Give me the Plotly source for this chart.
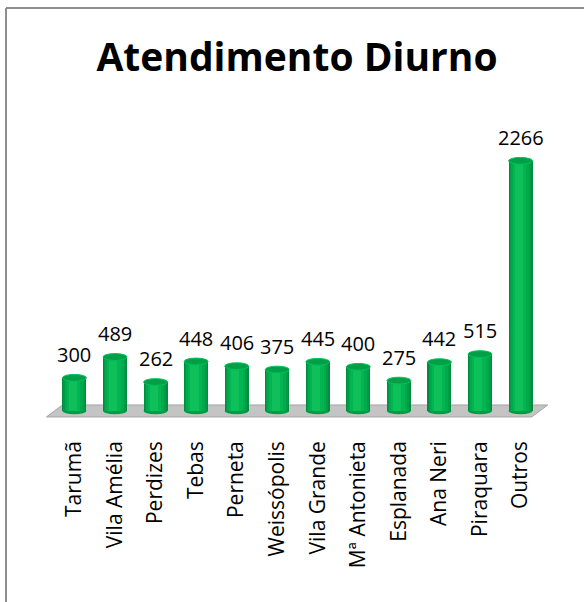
import plotly.graph_objects as go

categories = ["Tarumã", "Vila Amélia", "Perdizes", "Tebas", "Perneta", "Weissópolis",
              "Vila Grande", "Mª Antonieta", "Esplanada", "Ana Neri", "Piraquara", "Outros"]
values = [300, 489, 262, 448, 406, 375, 445, 400, 275, 442, 515, 2266]
title_text = "Atendimento Diurno"

W, H = 584, 602
ML, MR, MT, MB = 44, 33, 135, 180
YMIN, YMAX = -100, 2500
XMIN, XMAX = -0.75, len(categories) - 0.25
plot_w = W - ML - MR
plot_h = H - MT - MB
ppu = plot_h / (YMAX - YMIN)     # pixels per value unit
ppx = plot_w / (XMAX - XMIN)     # pixels per category

def px2paper_x(px):
    return (px - ML) / plot_w

def px2paper_y(py):
    return (H - MB - py) / plot_h

BW = 0.59
layers = [
    (0.59, 0.00, "#008c3f"),
    (0.53, -0.005, "#009c45"),
    (0.45, -0.015, "#00aa4c"),
    (0.34, -0.025, "#00b552"),
    (0.20, -0.04, "#0ebf5a"),
]

fig = go.Figure()
idx = list(range(len(categories)))
for w, s, c in layers:
    fig.add_trace(go.Bar(
        x=idx, y=values, width=w, offset=s - w / 2,
        marker=dict(color=c, line=dict(width=0)),
        hoverinfo="skip", showlegend=False,
    ))

shapes = []
# floor (gray parallelogram), expressed in data units of the axes
fh = 6 / ppu
fd = 16 / ppx
floor_path = (f"M {XMIN + 0.06},{-fh} L {XMIN + 0.06 + fd},{fh} "
              f"L {XMAX - 0.08},{fh} L {XMAX - 0.08 - fd},{-fh} Z")
shapes.append(dict(type="path", xref="x", yref="y", path=floor_path,
                   fillcolor="#c4c4c4", line=dict(color="#a6a6a6", width=1), layer="below"))

eh = 3.4 / ppu
for i, v in enumerate(values):
    # bottom ellipse
    shapes.append(dict(type="circle", xref="x", yref="y",
                       x0=i - BW / 2, x1=i + BW / 2, y0=-eh, y1=eh,
                       fillcolor="#009c45", line=dict(width=0), layer="below"))
    # top ellipse cap
    shapes.append(dict(type="circle", xref="x", yref="y",
                       x0=i - BW / 2, x1=i + BW / 2, y0=v - eh, y1=v + eh,
                       fillcolor="#009f48", line=dict(color="#00c257", width=1), layer="above"))

# frame (left and top)
shapes.append(dict(type="line", xref="paper", yref="paper",
                   x0=px2paper_x(6), x1=px2paper_x(6), y0=px2paper_y(8), y1=px2paper_y(610),
                   line=dict(color="#8f8f8f", width=2)))
shapes.append(dict(type="line", xref="paper", yref="paper",
                   x0=px2paper_x(6), x1=px2paper_x(600), y0=px2paper_y(8), y1=px2paper_y(8),
                   line=dict(color="#8f8f8f", width=2)))

annotations = []
for i, v in enumerate(values):
    annotations.append(dict(x=i, y=v, xref="x", yref="y", text=str(v), showarrow=False,
                            yanchor="bottom", yshift=8,
                            font=dict(family="Open Sans", size=20, color="#000000")))

fig.update_layout(
    width=W, height=H,
    margin=dict(l=ML, r=MR, t=MT, b=MB, autoexpand=False),
    paper_bgcolor="white", plot_bgcolor="rgba(0,0,0,0)",
    barmode="overlay", bargap=0,
    title=dict(text=f"<b>{title_text}</b>", x=297 / W,
               xanchor="center", y=1 - 57 / H, yanchor="middle",
               font=dict(family="Open Sans", size=39, color="#000000")),
    shapes=shapes, annotations=annotations,
    xaxis=dict(tickmode="array", tickvals=idx, ticktext=categories, range=[XMIN, XMAX],
               tickangle=-90, showgrid=False, zeroline=False, showline=False, ticks="",
               ticklabelstandoff=14,
               tickfont=dict(family="Open Sans", size=21, color="#000000")),
    yaxis=dict(range=[YMIN, YMAX], visible=False, showgrid=False, zeroline=False),
)

fig.write_html("out.html", config={"displayModeBar": False},
               post_script="document.body.style.margin='0px';")
